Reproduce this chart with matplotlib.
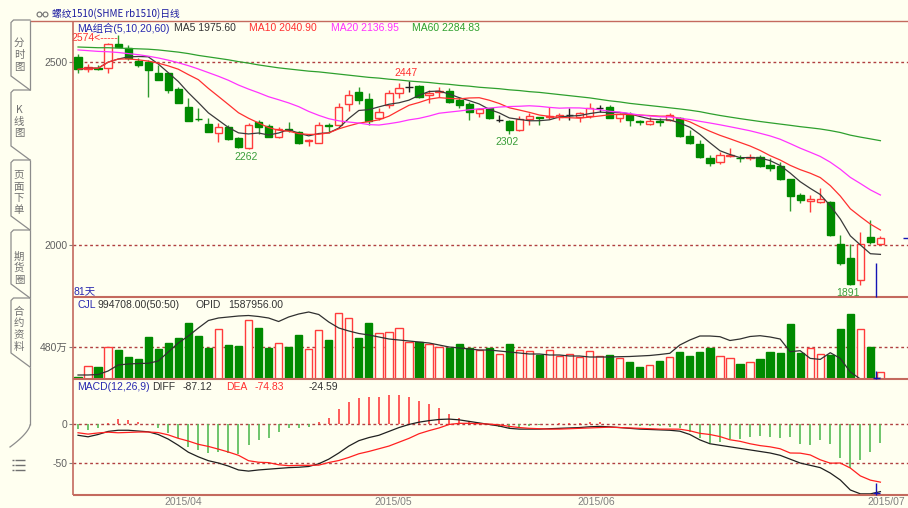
import numpy as np
import pandas as pd
import matplotlib
matplotlib.use('Agg')
import matplotlib.pyplot as plt
from matplotlib.patches import Rectangle

plt.rcParams['font.family'] = ['Liberation Sans', 'Noto Sans CJK SC', 'DejaVu Sans']

# ---------------- data ----------------
opens = [2513, 2481, 2484, 2483, 2549, 2537, 2504, 2499, 2471, 2471,
         2425, 2378, 2345, 2330, 2305, 2323, 2291, 2264, 2337, 2326,
         2294, 2316, 2308, 2284, 2280, 2328, 2328, 2384, 2417, 2399,
         2346, 2382, 2414, 2432, 2434, 2410, 2418, 2421, 2396, 2384,
         2360, 2373, 2341, 2339, 2314, 2344, 2349, 2349, 2351, 2355,
         2350, 2353, 2373, 2378, 2346, 2355, 2338, 2330, 2339, 2341,
         2348, 2298, 2275, 2238, 2226, 2243, 2239, 2238, 2241, 2218,
         2217, 2180, 2136, 2121, 2118, 2118, 2004, 1965, 1904, 2021, 2002]
highs = [2522, 2494, 2492, 2551, 2574, 2546, 2510, 2505, 2492, 2471,
         2433, 2401, 2373, 2346, 2332, 2328, 2296, 2334, 2341, 2330,
         2323, 2335, 2312, 2289, 2335, 2334, 2387, 2423, 2432, 2414,
         2373, 2423, 2443, 2447, 2437, 2423, 2432, 2428, 2405, 2391,
         2373, 2374, 2355, 2341, 2353, 2362, 2351, 2378, 2362, 2373,
         2364, 2387, 2382, 2382, 2362, 2364, 2341, 2351, 2346, 2360,
         2351, 2314, 2287, 2246, 2253, 2266, 2246, 2250, 2246, 2237,
         2226, 2181, 2141, 2136, 2155, 2120, 2027, 2004, 2036, 2068, 2025]
lows = [2471, 2474, 2478, 2471, 2540, 2505, 2487, 2405, 2451, 2415,
        2389, 2338, 2340, 2308, 2282, 2287, 2265, 2262, 2303, 2294,
        2291, 2308, 2275, 2271, 2278, 2305, 2326, 2366, 2384, 2328,
        2341, 2373, 2401, 2419, 2402, 2387, 2405, 2387, 2373, 2341,
        2350, 2345, 2335, 2302, 2311, 2328, 2328, 2344, 2341, 2341,
        2337, 2348, 2364, 2346, 2335, 2326, 2328, 2328, 2326, 2339,
        2296, 2276, 2237, 2217, 2220, 2241, 2226, 2232, 2214, 2203,
        2177, 2094, 2116, 2089, 2116, 2025, 1945, 1891, 1892, 2004, 2000]
closes = [2480, 2487, 2482, 2549, 2542, 2510, 2492, 2478, 2451, 2423,
          2389, 2340, 2343, 2310, 2323, 2289, 2267, 2328, 2323, 2296,
          2316, 2314, 2278, 2287, 2328, 2326, 2378, 2410, 2396, 2339,
          2364, 2414, 2430, 2432, 2405, 2416, 2420, 2390, 2382, 2364,
          2371, 2346, 2341, 2314, 2344, 2352, 2347, 2353, 2354, 2355,
          2360, 2373, 2373, 2348, 2357, 2341, 2337, 2339, 2337, 2355,
          2298, 2280, 2241, 2223, 2246, 2246, 2238, 2241, 2217, 2211,
          2180, 2134, 2123, 2126, 2127, 2027, 1952, 1893, 2002, 2007, 2018]
# MA20 / MA60 values before enough visible history
ma20_head = [2533, 2531, 2529, 2528, 2526, 2523, 2520, 2516, 2511, 2505,
             2498, 2490, 2481, 2471, 2461, 2450, 2437, 2426, 2416]
ma60_head = [2541, 2540, 2539, 2539, 2538, 2537, 2536, 2535, 2533, 2530,
             2527, 2523, 2518, 2514, 2510, 2506, 2501, 2497, 2492, 2488,
             2484, 2481, 2478, 2475, 2473, 2470, 2467, 2464, 2461, 2458,
             2456, 2453, 2451, 2448, 2446, 2444, 2441, 2439, 2436, 2434,
             2431, 2429, 2427, 2424, 2422, 2419, 2417, 2414, 2411, 2408,
             2405, 2402, 2398, 2394, 2391, 2387, 2384, 2381, 2378]
# volume (万手)
volume = [30, 200, 176, 485, 435, 325, 300, 630, 445, 545,
          620, 840, 645, 460, 750, 510, 495, 885, 770, 470,
          535, 485, 660, 445, 735, 585, 985, 920, 620, 840,
          690, 700, 760, 560, 560, 520, 480, 470, 520, 470,
          430, 470, 380, 520, 430, 420, 360, 430, 350, 380,
          330, 420, 350, 360, 310, 260, 185, 210, 275, 325,
          410, 350, 410, 470, 345, 310, 220, 250, 300, 410,
          385, 825, 385, 470, 370, 360, 745, 975, 745, 485, 99.47]
# open interest (万手, own scale)
opid = [165.6, 165.6, 166.6, 173.6, 185.6, 187.6, 188.6, 189.0, 193.6, 211.6,
        229.6, 243.6, 259.6, 274.6, 279.6, 281.6, 283.6, 284.6, 282.6, 279.6,
        272.6, 281.6, 287.6, 291.6, 286.6, 271.6, 259.6, 253.6, 248.6, 245.6,
        241.6, 237.6, 235.6, 233.6, 231.6, 229.6, 225.6, 221.6, 219.6, 217.6,
        215.6, 215.6, 213.6, 211.6, 209.6, 207.6, 207.6, 205.6, 205.6, 203.6,
        203.6, 201.6, 201.6, 201.6, 202.2, 202.6, 203.6, 204.6, 206.6, 209.0,
        225.6, 235.6, 243.6, 243.6, 242.2, 234.6, 237.6, 242.6, 244.2, 241.6,
        237.6, 212.2, 214.2, 198.8, 196.8, 210.2, 198.8, 171.6, 157.6, 158.6, 158.8]
diff = [-14, -16, -13, -9, -7.5, -7.5, -8.5, -9.5, -13, -19,
        -27, -36, -42, -47, -50, -54, -59, -60.5, -59, -58,
        -57, -56, -55.5, -54.5, -51, -45, -37, -28, -21, -17,
        -14, -9, -4, 0, 3, 5, 6.5, 7, 6, 4,
        2, 0, -2, -5, -6, -6, -6, -5.5, -5, -4.5,
        -4, -3, -2.5, -3, -4, -5, -6, -6.5, -7, -7.5,
        -8.7, -13, -20, -25, -27, -29, -31, -33, -35, -37,
        -40, -45, -50, -53, -56, -63, -72, -85, -90, -90, -87.12]
macd = [-6.5, -7, -4, 2, 6.5, 5.6, 2.6, 0.5, -5, -11,
        -18, -29, -32.5, -37, -36, -36.5, -38, -27, -20, -17,
        -9.5, -5, -5, -3, 3.5, 8.7, 19.5, 29.5, 34, 36,
        35, 38, 38, 36, 30, 26, 22, 14, 9, 5,
        2, -1, -3, -5, -4, -2, -1, 1, 2, 2,
        2, 3, 3, 1, 0, -1, -2, -2, -2, -3,
        -5.2, -9.6, -17, -24, -22.6, -18.3, -18.3, -16, -15.2, -16,
        -17, -16, -25.6, -27, -20.4, -25.6, -44, -57, -46.5, -35.6, -24.59]

legend_ma = [('MA5 1975.60', '#333333'), ('MA10 2040.90', '#FF3030'),
             ('MA20 2136.95', '#FF30FF'), ('MA60 2284.83', '#2EA02E')]
date_labels = ['2015/04', '2015/05', '2015/06', '2015/07']
date_pos = [10.47, 31.4, 51.7, 80.6]
label_high_idx = [33]
label_low_idx = [17, 43, 77]

n = len(closes)
assert all(len(a) == n for a in [opens, highs, lows, volume, opid, diff, macd])

s = pd.Series(closes, dtype=float)
ma5 = s.rolling(5, min_periods=1).mean().values
ma10 = s.rolling(10, min_periods=1).mean().values
ma20 = s.rolling(20).mean().values
ma20[:len(ma20_head)] = ma20_head
ma60 = s.rolling(60).mean().values
ma60[:len(ma60_head)] = ma60_head
dea = np.array(diff) - np.array(macd) / 2.0

# ---------------- style ----------------
BG = '#FFFFF0'
RED = '#FF3C3C'
GREEN = '#008A00'
GWICK = '#2E9A2E'
BLACK = '#202020'
BORDER = '#C46A5E'
DOT = '#B04040'
W, H = 908, 508

fig = plt.figure(figsize=(W / 100, H / 100), dpi=100, facecolor=BG)


def px_axes(x0, y0, x1, y1):
    ax = fig.add_axes([x0 / W, 1 - y1 / H, (x1 - x0) / W, (y1 - y0) / H])
    ax.set_facecolor('none')
    for sp in ax.spines.values():
        sp.set_visible(False)
    ax.set_xlim(-0.5, 82.75)
    ax.tick_params(axis='y', direction='out', length=3, width=0.8, color='#808080',
                   labelsize=7.5, labelcolor='#606060', pad=1)
    ax.tick_params(axis='x', length=0)
    ax.set_xticks([])
    return ax


ax_p = px_axes(73, 20, 908, 297)
ax_v = px_axes(73, 297, 908, 379)
ax_m = px_axes(73, 379, 908, 495)

ax_p.set_ylim(1857.93, 2614.75)
ax_v.set_ylim(0, 1230)
ax_m.set_ylim(-91.5, 59.0)

x = np.arange(n)
bw = 0.72

# candles
for i in range(n):
    o, h, l, c = opens[i], highs[i], lows[i], closes[i]
    if c > o:
        col, wc = RED, RED
    elif c < o:
        col, wc = GREEN, GWICK
    else:
        col, wc = BLACK, BLACK
    ax_p.vlines(i, l, h, color=wc, lw=1, zorder=3)
    if c != o:
        ax_p.add_patch(Rectangle((i - bw / 2, min(o, c)), bw, abs(c - o),
                                 facecolor=(BG if c > o else GREEN), edgecolor=col,
                                 lw=1, zorder=4))
    else:
        ax_p.hlines(o, i - bw / 2, i + bw / 2, color=col, lw=1, zorder=4)

ax_p.plot(x, ma5, color='#3A3A3A', lw=0.9, zorder=5)
ax_p.plot(x, ma10, color='#FF3030', lw=0.9, zorder=5)
ax_p.plot(x, ma20, color='#FF33FF', lw=0.9, zorder=5)
ax_p.plot(x, ma60, color='#2EA02E', lw=0.9, zorder=5)

for yv in (2500, 2000):
    ax_p.axhline(yv, color=DOT, ls=(0, (2, 2)), lw=1, zorder=1)
ax_p.set_yticks([2000, 2500])
ax_p.set_yticklabels(['2000', '2500'])

# extreme labels
imax = int(np.argmax(highs))
ax_p.annotate(f'{highs[imax]:.0f}<-----', xy=(imax, highs[imax]), xytext=(0, -3),
              textcoords='offset pixels', ha='right', va='center', color='#FF3030', fontsize=7.5)
for i in label_high_idx:
    ax_p.annotate(f'{highs[i]:.0f}', xy=(i, highs[i]), xytext=(-3, 8),
                  textcoords='offset pixels', ha='center', va='center', color='#FF3030', fontsize=7.5)
for i in label_low_idx:
    ax_p.annotate(f'{lows[i]:.0f}', xy=(i, lows[i]), xytext=(-2.5, -8),
                  textcoords='offset pixels', ha='center', va='center', color='#3A9E3A', fontsize=7.5)

# volume
for i in range(n):
    up = closes[i] >= opens[i]
    ax_v.add_patch(Rectangle((i - bw / 2, 0), bw, volume[i],
                             facecolor=(BG if up else GREEN), edgecolor=(RED if up else GREEN),
                             lw=1, zorder=3))
ax_v.axhline(480, color=DOT, ls=(0, (2, 2)), lw=1, zorder=1)
ax_v.set_yticks([480])
ax_v.set_yticklabels(['480万'])
ax_o = ax_v.twinx()
ax_o.set_facecolor('none')
for sp in ax_o.spines.values():
    sp.set_visible(False)
ax_o.set_yticks([])
ax_o.set_ylim(157.6, 321.6)
ax_o.plot(x, opid, color='#303030', lw=0.9, zorder=5)

# MACD
for i in range(n):
    ax_m.vlines(i, 0, macd[i], color=('#FF4040' if macd[i] > 0 else '#55BB55'), lw=1.2, zorder=3)
ax_m.plot(x, diff, color='#202020', lw=0.9, zorder=5)
ax_m.plot(x, dea, color='#FF2020', lw=0.9, zorder=5)
for yv in (0, -50):
    ax_m.axhline(yv, color=DOT, ls=(0, (2, 2)), lw=1, zorder=1)
ax_m.set_yticks([-50, 0])
ax_m.set_yticklabels(['-50', '0'])
ax_m.set_xticks(date_pos)
ax_m.set_xticklabels(date_labels)
ax_m.tick_params(axis='x', length=0, pad=1.5, labelsize=7.5, labelcolor='#808080')

# ---------------- overlay (pixel coordinates) ----------------
ov = fig.add_axes([0, 0, 1, 1], zorder=10)
ov.set_xlim(0, W)
ov.set_ylim(H, 0)
ov.axis('off')
ov.patch.set_visible(False)


def line(xs, ys, **kw):
    ov.plot(xs, ys, solid_capstyle='butt', **kw)


line([30, 908], [20.5, 20.5], color=BORDER, lw=1)
line([73, 73], [20.5, 495], color=BORDER, lw=1.2)
for yb in (297, 379, 495):
    line([73, 908], [yb, yb], color=BORDER, lw=1.5)

# cursor remnants
CUR = '#1414B4'
line([876, 876], [263, 297], color=CUR, lw=1)
line([903, 908], [238.3, 238.3], color=CUR, lw=1)
line([876, 876], [371, 379], color=CUR, lw=1)
line([873, 880], [378, 378], color=CUR, lw=1)
line([876, 876], [483, 495], color=CUR, lw=1)
line([873, 880], [492.7, 492.7], color=CUR, lw=1)

# title
ov.plot([39, 45], [14, 14], color='#808080', lw=0.8)
ov.plot([39, 45], [14, 14], 'o', ms=3.5, mfc=BG, mec='#707070', mew=0.8)
ov.text(52, 14, '螺纹1510(SHME rb1510)日线', color='#1C1CA0', fontsize=7,
        va='center', ha='left', family=['Noto Sans CJK SC', 'DejaVu Sans'])


def t(xp, yp, s, c, **kw):
    ov.text(xp, yp, s, color=c, fontsize=7.5, va='center', ha='left', **kw)


t(77, 28, 'MA组合(5,10,20,60)', '#2828B0')
for (s_, c_), xp in zip(legend_ma, [174, 249, 331, 412]):
    t(xp, 28, s_, c_)
t(73, 291, f'{n}天', '#2828B0')
t(77, 305.5, 'CJL', '#2828B0')
t(98, 305.5, '994708.00(50:50)', '#333333')
t(196, 305.5, 'OPID', '#333333')
t(228, 305.5, '1587956.00', '#333333')
t(77, 386.5, 'MACD(12,26,9)', '#2828B0')
t(152, 386.5, 'DIFF', '#333333')
t(183, 386.5, '-87.12', '#333333')
t(226, 386.5, 'DEA', '#FF3030')
t(255, 386.5, '-74.83', '#FF3030')
t(309, 386.5, '-24.59', '#333333')

# left sidebar tabs
TAB = '#8C8C8C'
tabs = [(20, 90, True), (90, 160, False), (160, 230, True), (230, 298, True), (298, 367, True)]
for (yt, yb, right) in tabs:
    ov.plot([30, 13.5, 11, 11, 30], [yt, yt, yt + 2.5, yb - 14, yb], color=TAB, lw=0.9)
    if right:
        line([30, 30], [yt, yb], color=TAB, lw=0.9)
line([30, 30], [367, 425], color=TAB, lw=0.9)
tt = np.linspace(0, 1, 20)
ov.plot(30 - 20 * tt ** 1.5, 425 + 22 * tt, color=TAB, lw=0.9)

tab_chars = [('分', 43), ('时', 55), ('图', 67), ('K', 110), ('线', 122), ('图', 133),
             ('页', 175), ('面', 187), ('下', 198), ('单', 210),
             ('期', 257), ('货', 268), ('圈', 280),
             ('合', 312), ('约', 323), ('资', 335), ('料', 347)]
for ch, yy in tab_chars:
    ov.text(19, yy, ch, color='#707070', fontsize=7.5, ha='center', va='center',
            family=['Noto Sans CJK SC', 'DejaVu Sans'])

for yy in (460, 465, 470):
    line([15, 25], [yy, yy], color='#707070', lw=1)
    line([12, 13.5], [yy, yy], color='#707070', lw=1)

fig.savefig('out.png', dpi=100, facecolor=BG)
